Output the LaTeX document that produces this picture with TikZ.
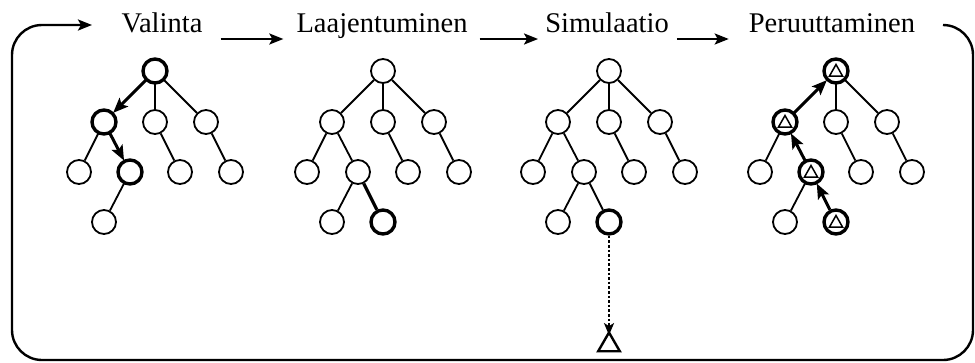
\documentclass[tikz,border=0pt]{standalone}
\usepackage{fontspec}
\setmainfont{Liberation Serif}
\usetikzlibrary{arrows.meta,calc,shapes.geometric}
\newcommand{\mktree}[2]{%
  \node[nd] (#1r)  at (#2,71) {};
  \node[nd] (#1a)  at ($(#2,122)+(-51,0)$) {};
  \node[nd] (#1b)  at (#2,122) {};
  \node[nd] (#1c)  at ($(#2,122)+(51,0)$) {};
  \node[nd] (#1a1) at ($(#2,172)+(-76,0)$) {};
  \node[nd] (#1a2) at ($(#2,172)+(-25,0)$) {};
  \node[nd] (#1b1) at ($(#2,172)+(25,0)$) {};
  \node[nd] (#1c1) at ($(#2,172)+(76,0)$) {};
  \node[nd] (#1a2a) at ($(#2,222)+(-51,0)$) {};
}
\newcommand{\smalltri}[1]{%
  \draw[line width=1.5pt,line join=miter] ($(#1)+(0,-6.5)$) -- ($(#1)+(6.5,5)$) -- ($(#1)+(-6.5,5)$) -- cycle;
}
\begin{document}
\begin{tikzpicture}[x=1pt,y=-1pt,
  nd/.style={circle,draw,fill=white,line width=1.8pt,minimum size=24pt,inner sep=0pt},
  bnd/.style={line width=3.4pt},
  ed/.style={line width=1.8pt},
  bed/.style={line width=3.2pt},
  barr/.style={line width=3pt,-{Stealth[length=15pt,width=12pt,inset=3pt]}},
  lab/.style={font=\fontsize{28.5}{32}\selectfont,inner sep=0pt,anchor=base},
  flow/.style={line width=2.4pt,-{Stealth[length=14pt,width=11pt,inset=3pt]}},
  loopline/.style={line width=2.4pt,rounded corners=30pt,-{Stealth[length=14pt,width=11pt,inset=3pt]}}]
\useasboundingbox (0,0) rectangle (975,362);

% labels
\node[lab] (l1) at (162,32) {Valinta};
\node[lab] (l2) at (382,32) {Laajentuminen};
\node[lab] (l3) at (607,32) {Simulaatio};
\node[lab] (l4) at (832,32) {Peruuttaminen};
\draw[flow] ([xshift=18pt,yshift=-7pt]l1.base east) -- ([xshift=-13pt,yshift=-7pt]l2.base west);
\draw[flow] ([xshift=12pt,yshift=-7pt]l2.base east) -- ([xshift=-7pt,yshift=-7pt]l3.base west);
\draw[flow] ([xshift=8pt,yshift=-7pt]l3.base east) -- ([xshift=-20pt,yshift=-7pt]l4.base west);
\coordinate (ls) at (943,25);
\coordinate (le) at (92,25);
\draw[loopline] (ls) -- (973,25) -- (973,360) -- (12,360) -- (12,25) -- (le);

% tree 1: Valinta
\mktree{p}{155}
\draw[ed] (pr) -- (pb); \draw[ed] (pr) -- (pc);
\draw[ed] (pa) -- (pa1); \draw[ed] (pb) -- (pb1); \draw[ed] (pc) -- (pc1);
\draw[ed] (pa2) -- (pa2a);
\draw[barr] (pr) -- (pa);
\draw[barr] (pa) -- (pa2);
\node[nd,bnd] at (pr) {}; \node[nd,bnd] at (pa) {}; \node[nd,bnd] at (pa2) {};

% tree 2: Laajentuminen
\mktree{q}{383}
\node[nd,bnd] (qa2b) at (383,222) {};
\draw[ed] (qr) -- (qa); \draw[ed] (qr) -- (qb); \draw[ed] (qr) -- (qc);
\draw[ed] (qa) -- (qa1); \draw[ed] (qa) -- (qa2); \draw[ed] (qb) -- (qb1); \draw[ed] (qc) -- (qc1);
\draw[ed] (qa2) -- (qa2a);
\draw[bed] (qa2) -- (qa2b);

% tree 3: Simulaatio
\mktree{s}{609}
\node[nd,bnd] (sa2b) at (609,222) {};
\draw[ed] (sr) -- (sa); \draw[ed] (sr) -- (sb); \draw[ed] (sr) -- (sc);
\draw[ed] (sa) -- (sa1); \draw[ed] (sa) -- (sa2); \draw[ed] (sb) -- (sb1); \draw[ed] (sc) -- (sc1);
\draw[ed] (sa2) -- (sa2a); \draw[ed] (sa2) -- (sa2b);
\node[regular polygon,regular polygon sides=3,draw,line width=2.4pt,minimum size=25pt,inner sep=0pt] (stri) at (609,345) {};
\draw[line width=2.6pt,dotted,-{Stealth[length=12pt,width=10pt,inset=3pt]}] (sa2b) -- ([yshift=-5pt]stri.north);

% tree 4: Peruuttaminen
\mktree{u}{836}
\node[nd,bnd] (ua2b) at (836,222) {};
\draw[ed] (ur) -- (ub); \draw[ed] (ur) -- (uc);
\draw[ed] (ua) -- (ua1); \draw[ed] (ub) -- (ub1); \draw[ed] (uc) -- (uc1);
\draw[ed] (ua2) -- (ua2a);
\draw[barr] (ua2b) -- (ua2);
\draw[barr] (ua2) -- (ua);
\draw[barr] (ua) -- (ur);
\node[nd,bnd] at (ur) {}; \node[nd,bnd] at (ua) {}; \node[nd,bnd] at (ua2) {};
\smalltri{ur} \smalltri{ua} \smalltri{ua2} \smalltri{ua2b}
\end{tikzpicture}
\end{document}
